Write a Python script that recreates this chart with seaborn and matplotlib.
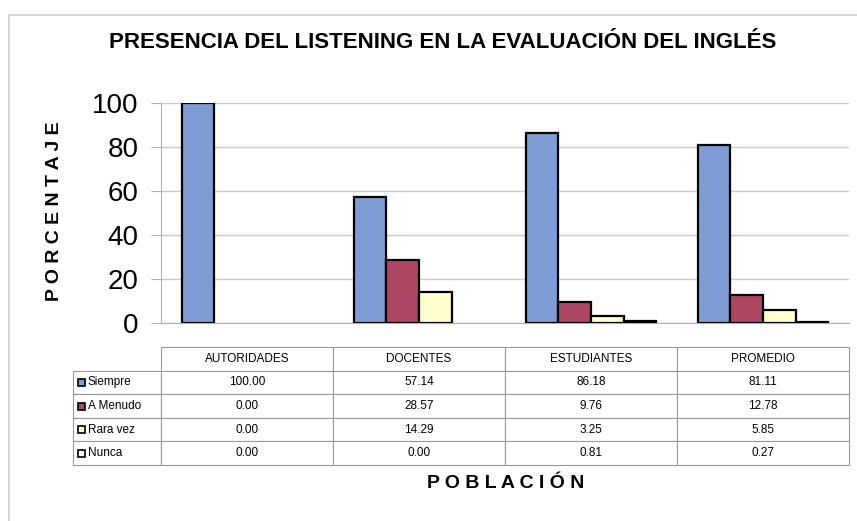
import numpy as np
import pandas as pd
import seaborn as sns
import matplotlib.pyplot as plt
from matplotlib.patches import Rectangle
from matplotlib.lines import Line2D

# Datos
poblacion = ['AUTORIDADES', 'DOCENTES', 'ESTUDIANTES', 'PROMEDIO']
frecuencia = ['Siempre', 'A Menudo', 'Rara vez', 'Nunca']
siempre = [100.00, 57.14, 86.18, 81.11]
a_menudo = [0.00, 28.57, 9.76, 12.78]
rara_vez = [0.00, 14.29, 3.25, 5.85]
nunca = [0.00, 0.00, 0.81, 0.27]
colores = ['#7e9dd5', '#ad4661', '#ffffcc', '#ffffff']

series = [siempre, a_menudo, rara_vez, nunca]
df = pd.DataFrame({
    'Poblacion': poblacion * 4,
    'Frecuencia': np.repeat(frecuencia, 4),
    'Porcentaje': np.concatenate(series),
})

sns.set_style('white')
plt.rcParams['font.family'] = ['Liberation Sans', 'DejaVu Sans']
plt.rcParams['text.color'] = 'black'
plt.rcParams['ytick.labelcolor'] = 'black'

W, H = 857, 521
fig = plt.figure(figsize=(W / 100, H / 100), dpi=100)
fig.patch.set_facecolor('white')

# marco del area del grafico
fig.add_artist(Line2D([9 / W, 9 / W], [0, 1 - 15 / H], color='#cfcfcf', lw=1.2, transform=fig.transFigure))
fig.add_artist(Line2D([9 / W, 1], [1 - 15 / H, 1 - 15 / H], color='#cfcfcf', lw=1.2, transform=fig.transFigure))

ax = fig.add_axes([161 / W, 1 - 323 / H, 688 / W, 220 / H])
sns.barplot(data=df, x='Poblacion', y='Porcentaje', hue='Frecuencia', hue_order=frecuencia,
            order=poblacion, palette=colores, width=0.76, gap=0, edgecolor='black',
            linewidth=1.6, saturation=1, legend=False, ax=ax, zorder=3)
# las barras con valor 0 no se ven
for p in ax.patches:
    if p.get_height() == 0:
        p.set_visible(False)

ax.set_ylim(0, 100)
ax.set_xlim(-0.5, 3.5)
ax.set_yticks([0, 20, 40, 60, 80, 100])
ax.yaxis.grid(True, color='#c9c9c9', lw=1)
ax.set_axisbelow(True)
ax.tick_params(axis='y', labelsize=20, length=7, color='#b0b0b0', pad=9, left=True, labelcolor='black')
ax.tick_params(axis='x', bottom=False, labelbottom=False)
ax.set_xlabel('')
ax.set_ylabel('')
for s in ['top', 'right']:
    ax.spines[s].set_visible(False)
ax.spines['left'].set_color('#b0b0b0')
ax.spines['bottom'].set_color('#b0b0b0')

# tabla de datos
x0_px, lab_w, col_w = 73, 88, 172
top_px, row_h = 347, 23.6
ax_w, ax_h = 688, 220


def fx(px):
    return (px - 161) / ax_w


def fy(py):
    return (323 - py) / ax_h


rows = [[''] + poblacion]
for nombre, vals in zip(frecuencia, series):
    rows.append([''] + ['%.2f' % v for v in vals])
tab = ax.table(cellText=rows, cellLoc='center',
               colWidths=[lab_w] + [col_w] * 4,
               bbox=[fx(x0_px), fy(top_px + 5 * row_h), (lab_w + 4 * col_w) / ax_w, 5 * row_h / ax_h])
tab.auto_set_font_size(False)
for (r, c), cell in tab.get_celld().items():
    cell.set_edgecolor('#9a9a9a')
    cell.set_linewidth(0.8)
    cell.get_text().set_fontsize(8.5)
    cell.get_text().set_color('black')
    if r == 0 and c == 0:
        cell.visible_edges = ''

for i, (nombre, col) in enumerate(zip(frecuencia, colores)):
    yc = top_px + row_h * (i + 1.5)
    ax.add_patch(Rectangle((fx(78), fy(yc + 3.5)), 7 / ax_w, 7 / ax_h, facecolor=col,
                           edgecolor='black', lw=1.2, transform=ax.transAxes, clip_on=False))
    ax.text(fx(88), fy(yc), nombre, transform=ax.transAxes, ha='left', va='center',
            fontsize=8.5, color='black')

fig.text(443 / W, 1 - 43 / H, 'PRESENCIA DEL LISTENING EN LA EVALUACIÓN DEL INGLÉS',
         ha='center', va='center', fontsize=16, fontweight='bold', color='black')
fig.text(55 / W, 1 - 211 / H, 'P O R C E N T A J E', rotation=90, ha='center', va='center',
         fontsize=14, fontweight='bold', color='black')
fig.text(506 / W, 1 - 484 / H, 'P O B L A C I Ó N', ha='center', va='center',
         fontsize=14, fontweight='bold', color='black')

fig.savefig('out.png', dpi=100)
